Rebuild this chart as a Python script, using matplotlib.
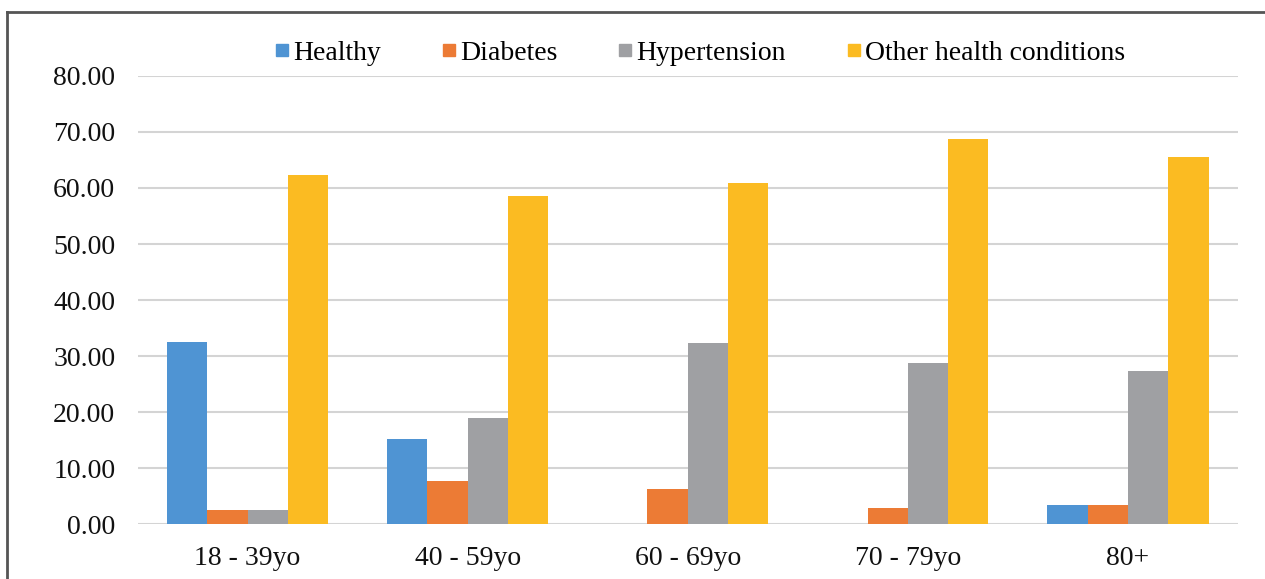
import matplotlib.pyplot as plt
import numpy as np
from matplotlib.lines import Line2D

plt.rcParams['font.family'] = ['Liberation Serif', 'DejaVu Serif']

# data
age_groups = ['18 - 39yo', '40 - 59yo', '60 - 69yo', '70 - 79yo', '80+']
healthy = [32.5, 15.1, 0.0, 0.0, 3.4]
diabetes = [2.5, 7.6, 6.3, 2.8, 3.4]
hypertension = [2.5, 18.9, 32.4, 28.7, 27.4]
other = [62.3, 58.6, 60.9, 68.7, 65.6]

series = [
    ('Healthy', healthy, '#4F94D3'),
    ('Diabetes', diabetes, '#EC7B35'),
    ('Hypertension', hypertension, '#9FA0A3'),
    ('Other health conditions', other, '#FBBB22'),
]

W, H = 1265, 579
fig = plt.figure(figsize=(W / 100, H / 100), dpi=100)
ax = fig.add_axes([137.5 / W, 1 - 524 / H, (1238 - 137.5) / W, (524 - 76) / H])

x = np.arange(len(age_groups))
bw = 0.183
for i, (name, vals, col) in enumerate(series):
    ax.bar(x + (i - 1.5) * bw, vals, width=bw, color=col, label=name, zorder=3)

ax.set_xlim(-0.5, len(age_groups) - 0.5)
ax.set_ylim(0, 80)
ax.set_yticks(np.arange(0, 81, 10))
ax.set_yticklabels([f'{v:.2f}' for v in np.arange(0, 81, 10)])
ax.set_xticks(x)
ax.set_xticklabels(age_groups)
ax.tick_params(axis='both', length=0, labelsize=20, colors='#111111')
ax.tick_params(axis='y', pad=16)
ax.tick_params(axis='x', pad=16)
ax.grid(axis='y', color='#d4d4d4', linewidth=1.5, zorder=0)
for s in ax.spines.values():
    s.set_visible(False)

handles = [Line2D([], [], marker='s', linestyle='', markersize=9,
                  markerfacecolor=c, markeredgecolor=c) for _, _, c in series]
fig.legend(handles, [n for n, _, _ in series], loc='center',
           bbox_to_anchor=(700 / W, 1 - 53 / H), ncol=4, frameon=False,
           fontsize=20, handlelength=0.5, handletextpad=0.15, columnspacing=2.2)

# outer frame (left and top edges visible in the crop)
fig.add_artist(Line2D([7 / W, 7 / W], [0, 1 - 12 / H], transform=fig.transFigure,
                      color='#555555', linewidth=2))
fig.add_artist(Line2D([7 / W, 1], [1 - 12 / H, 1 - 12 / H], transform=fig.transFigure,
                      color='#555555', linewidth=2))

fig.savefig('out.png', dpi=100)
